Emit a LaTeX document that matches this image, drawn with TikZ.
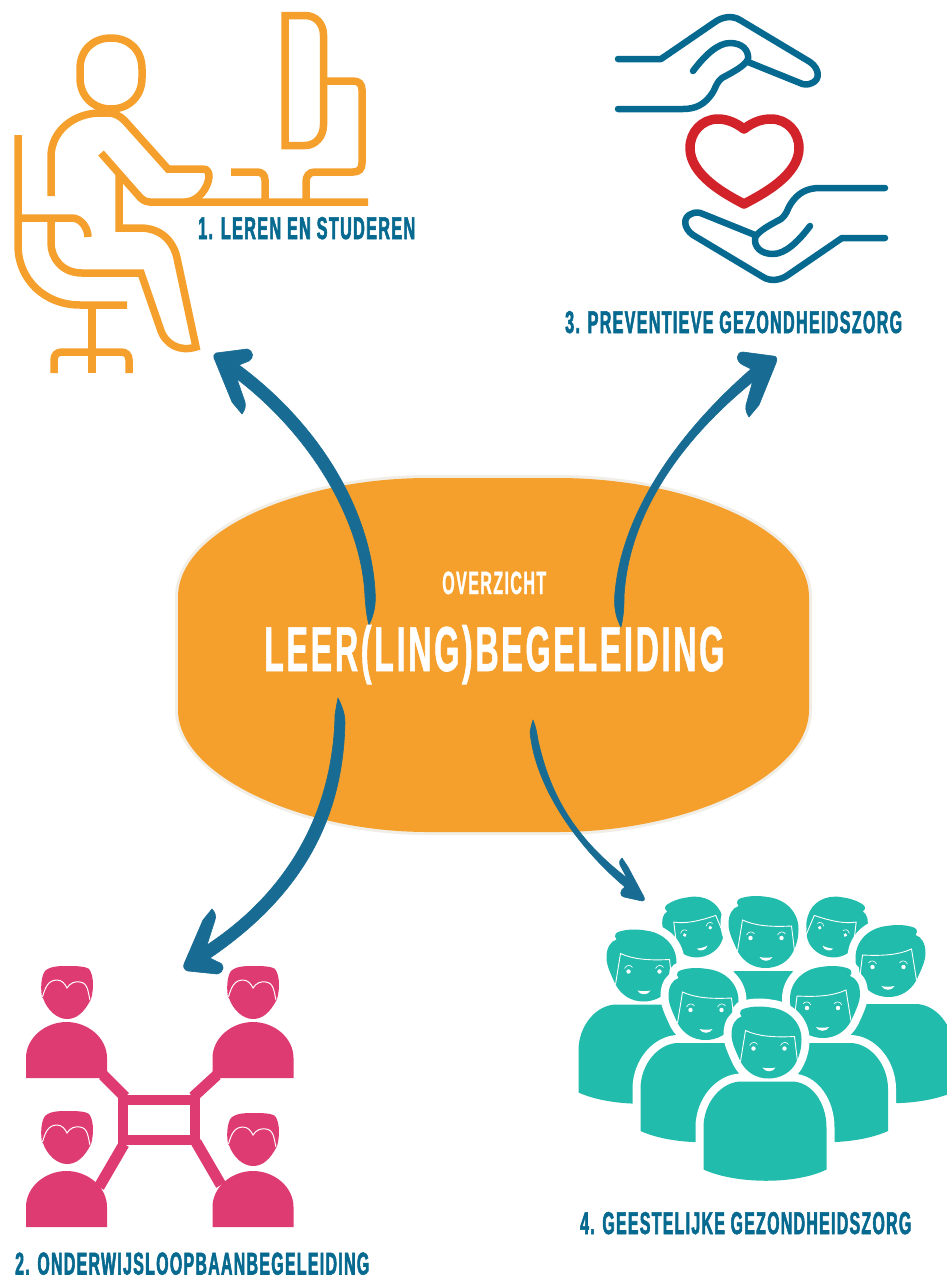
\documentclass[tikz,border=0pt]{standalone}
\usepackage{graphicx}
\usepackage{fontspec}
\newfontfamily\lab{Liberation Sans Bold}[FakeStretch=0.6,FakeBold=2,LetterSpace=5]
\newfontfamily\labthin{Liberation Sans Bold}[FakeStretch=0.6,FakeBold=1,LetterSpace=5]
\definecolor{deskor}{HTML}{F5A02C}
\definecolor{arrowblue}{HTML}{186C94}
\definecolor{textblue}{HTML}{06698F}
\definecolor{heartred}{HTML}{D2232A}
\definecolor{pinkp}{HTML}{DE3B73}
\definecolor{tealp}{HTML}{22BCAD}
\definecolor{rimc}{HTML}{F1EEE7}
\newcommand{\fit}[3]{\resizebox{#1pt}{#2pt}{#3}}
\newcommand{\hubshape}{(178,597) .. controls (178,530) and (300,478) .. (428,478) -- (557,478) .. controls (690,478) and (809,530) .. (809,597) -- (809,710) .. controls (809,775) and (690,832) .. (557,832) -- (428,832) .. controls (300,832) and (178,775) .. (178,710) -- cycle}
\newcommand{\handshape}{(618,59) -- (661,59) -- (715,22) .. controls (722,17) and (732,15) .. (740,20) -- (810,62) .. controls (820,69) and (820,80) .. (812,83) .. controls (808,85) and (804,85) .. (800,83) -- (748,62)
 (693,71) .. controls (705,55) and (718,43) .. (730,43) .. controls (742,43) and (749,50) .. (748,59) .. controls (745,66) and (733,72) .. (722,78) .. controls (716,83) and (716,87) .. (713,92) .. controls (705,105) and (695,109) .. (683,109) -- (618,109)}
\newcommand{\pinkhead}[2]{\begin{scope}[shift={(#1,#2)}]
 \fill[pinkp] (42,997) .. controls (40,985) and (42,975) .. (45,971) .. controls (50,966) and (60,966) .. (67,966) .. controls (75,966) and (85,966) .. (89,969) .. controls (93,974) and (94,985) .. (92,995) .. controls (91,1000) and (90,1001) .. (90,1001) .. controls (84,1012) and (77,1019) .. (67,1019) .. controls (57,1019) and (47,1010) .. (43,998) -- cycle;
 \draw[white,line width=1] (42.5,997) .. controls (45,988) and (48,980) .. (57,980) .. controls (62,980) and (65,984) .. (67,988) .. controls (70,983) and (75,981) .. (80,982) .. controls (88,983) and (88,992) .. (90,1000);
\end{scope}}
\newcommand{\pinkbody}[2]{\fill[pinkp,shift={(#1,#2)}] (26,1078) -- (26,1058) .. controls (26,1038) and (45,1022) .. (66.5,1022) .. controls (88,1022) and (107,1038) .. (107,1058) -- (107,1078) -- cycle;}
\newcommand{\headpath}{(-26,19) .. controls (-31,8) and (-35,0) .. (-35,-8) .. controls (-35,-18) and (-31,-24) .. (-25,-26) .. controls (-28,-30) and (-26,-33) .. (-22,-34) .. controls (-12,-37) and (-2,-36) .. (4,-35) .. controls (22,-33) and (35,-20) .. (35,-3) .. controls (35,6) and (33,13) .. (30,19) .. controls (25,30) and (14,36) .. (2,36) .. controls (-10,36) and (-20,30) .. (-26,19) -- cycle}
\newcommand{\bodypath}[1]{(-63,127+#1) -- (-63,85+#1) .. controls (-63,60+#1) and (-45,39+#1) .. (-25,39+#1) -- (25,39+#1) .. controls (45,39+#1) and (60,60+#1) .. (60,85+#1) -- (60,127+#1) .. controls (30,142+#1) and (-30,142+#1) .. (-63,127+#1) -- cycle}
\newcommand{\facebits}{%
 \draw[white,line width=.9] (-26,19) -- (-21,-12) .. controls (-8,-6) and (8,-5) .. (28,-6) -- (31,19);
 \fill[white] (-13,6) circle (2.2) (18,6) circle (2.2);
 \draw[white,line width=.6] (-17,3) .. controls (-15,-1) and (-11,-1) .. (-9,2) (14,3) .. controls (16,-1) and (20,-1) .. (22,2);
 \fill[white] (-4,25) .. controls (0,26) and (6,26) .. (9,25) .. controls (7,30) and (-2,30) .. (-4,25) -- cycle;}
\newcommand{\tealhead}[4]{\begin{scope}[shift={(#1,#2)},rotate=#4,xscale=#3,yscale=.86]
 \path[fill=white,draw=white,line width=14] \headpath;
 \fill[tealp] \headpath; \facebits
\end{scope}}
\newcommand{\tealperson}[4]{\begin{scope}[shift={(#1,#2)},xscale=#3]
 \path[fill=white,draw=white,line width=16] \bodypath{#4} \headpath;
 \fill[tealp] \bodypath{#4}; \fill[tealp] \headpath; \facebits
\end{scope}}
\begin{document}
\begin{tikzpicture}[x=1pt,y=-1pt,
 deskline/.style={draw=deskor,line width=7.5,line join=miter,line cap=butt},
 handline/.style={draw=textblue,line width=6.5,line cap=round,line join=round},
 tapered/.style={fill=arrowblue,draw=arrowblue,line width=.6,line join=round},
 labelnode/.style={anchor=base west,inner sep=0,text=textblue},
 titlenode/.style={anchor=base west,inner sep=0,text=white}]
\useasboundingbox (0,0) rectangle (946,1278);
\fill[white] (0,0) rectangle (946,1278);
% central shape
\coordinate (hub) at (493,655);
\path[draw=rimc,line width=6] \hubshape;
\fill[deskor] \hubshape;
% arrows
\coordinate (t1) at (369,625); \coordinate (t2) at (338,698); \coordinate (t3) at (621,627); \coordinate (t4) at (533,720);
\path[tapered] (t1) .. controls (375,612) and (376,603) .. (375,590) .. controls (370,510) and (320,425) .. (239,365) -- (249,361) .. controls (254,358) and (254,351) .. (247,349) -- (216,353) .. controls (214,354) and (213,356) .. (214,358) -- (232,402) -- (242,414) .. controls (245,410) and (246,406) .. (245,402) -- (237,379) .. controls (310,435) and (362,520) .. (365,597) .. controls (366,610) and (367,618) .. (t1) -- cycle;
\path[tapered] (t3) .. controls (624,614) and (624,605) .. (624,597) .. controls (628,520) and (675,445) .. (752.5,382) -- (746,405) .. controls (745,410) and (747,414) .. (749,417) -- (759,405) -- (776,363) .. controls (778,358) and (776,356) .. (773,356) -- (743,352) .. controls (736,352) and (735,361) .. (743,365) -- (751,369) .. controls (670,440) and (620,520) .. (614.6,597) .. controls (614,610) and (617,620) .. (t3) -- cycle;
\path[tapered] (t2) .. controls (343,708) and (345,715) .. (345,723) .. controls (343,810) and (310,890) .. (210,958) -- (218,962) .. controls (225,964) and (225,972) .. (217,974) -- (188,971) .. controls (184,970) and (183,967) .. (184,964) -- (203,920) -- (212,909) .. controls (216,913) and (216,917) .. (215,920) -- (207,945) .. controls (290,890) and (333,810) .. (335,715) .. controls (336,708) and (337,703) .. (t2) -- cycle;
\path[tapered] (t4) .. controls (536,727) and (537,734) .. (538,740) .. controls (550,795) and (575,838) .. (627,878) -- (620,865) .. controls (619,861) and (620,860) .. (622,858) -- (628,867) -- (644,897) .. controls (645,900) and (644,901) .. (642,901) -- (624,897) .. controls (620,896) and (619,891) .. (625,887) .. controls (575,845) and (535,785) .. (530,732) .. controls (531,727) and (532,723) .. (t4) -- cycle;
% text in hub
\node[titlenode] (ov) at (442,594) {\labthin\fit{104}{22.5}{OVERZICHT}};
\node[titlenode] (ti) at (264,671) {\labthin\fit{460}{46}{LEER(LING)BEGELEIDING}};
% labels
\node[labelnode] (l1) at (198,239) {\lab\fit{217}{22}{1. LEREN EN STUDEREN}};
\node[labelnode] (l3) at (565,333) {\lab\fit{337}{22}{3. PREVENTIEVE GEZONDHEIDSZORG}};
\node[labelnode] (l2) at (15,1274.5) {\lab\fit{354}{22}{2. ONDERWIJSLOOPBAANBEGELEIDING}};
\node[labelnode] (l4) at (580,1234) {\lab\fit{331}{22}{4. GEESTELIJKE GEZONDHEIDSZORG}};
% desk figure
\draw[deskline] (111,38) .. controls (93,38) and (80,50) .. (80,69) -- (80,78) .. controls (80,96) and (93,109) .. (111,109) .. controls (129,109) and (142,96) .. (142,78) -- (142,69) .. controls (142,50) and (129,38) .. (111,38) -- cycle;
\draw[deskline] (51,196) -- (51,157) .. controls (51,130) and (75,113) .. (100,113) -- (108,113) .. controls (115,113) and (120,116) .. (125,121) -- (168,169) -- (203,169) .. controls (208,169) and (209,173) .. (209,177) .. controls (208,188) and (198,202) .. (185,202);
\draw[deskline] (101,153) -- (138,195) .. controls (141,199) and (145,202) .. (150,202) -- (368,202);
\draw[deskline] (119,175) -- (119,228) -- (140,228) .. controls (160,228) and (173,240) .. (177,258) -- (196,347) .. controls (180,352) and (165,345) .. (160,328) -- (141,273) -- (82,273) .. controls (62,273) and (51,258) .. (51,243) -- (51,218);
\draw[deskline] (18,135) -- (18,245) .. controls (18,280) and (45,305) .. (80,305) -- (127,305);
\draw[deskline] (18,218) -- (72,218) .. controls (81,218) and (88,228) .. (88,237);
\draw[deskline] (92,305) -- (92,373);
\draw[deskline] (54,373) -- (54,360) .. controls (54,355) and (57,352) .. (62,352) -- (121,352) .. controls (126,352) and (129,355) .. (129,360) -- (129,373);
\draw[deskline] (285,15.5) -- (305,15.5) .. controls (316,15.5) and (323.5,24) .. (323.5,35) -- (323.5,125) .. controls (323.5,136) and (316,145.5) .. (305,145.5) -- (285,145.5) -- cycle;
\draw[deskline] (327,81) -- (353,81) .. controls (359,81) and (362,84) .. (362,90) -- (362,163) .. controls (362,169) and (359,172) .. (353,172) -- (315,172) .. controls (309,172) and (306,176) .. (306,182) -- (306,202);
\draw[deskline] (231,172) -- (257,172) .. controls (262,172) and (265,175) .. (265,180) -- (265,202);
% hands and heart
\path[handline] \handshape;
\begin{scope}[shift={(1503,297)},xscale=-1,yscale=-1]
\path[handline] \handshape;
\end{scope}
\draw[heartred,line width=9.5,line join=round] (744,129) .. controls (735,122) and (726,119) .. (718,119) .. controls (702,119) and (690,132) .. (690,148) .. controls (690,175) and (725,194) .. (744,204) .. controls (763,194) and (799,175) .. (799,148) .. controls (799,132) and (787,119) .. (771,119) .. controls (762,119) and (753,122) .. (744,129) -- cycle;
% pink network
\draw[pinkp,line width=10,line join=miter] (123,1100) rectangle (195,1140);
\draw[pinkp,line width=11] (125,1097) -- (103,1075) (193,1097) -- (217,1075) (124,1144) -- (99,1187) (196,1142) -- (221,1185);
\pinkhead{0}{0}\pinkbody{0}{0}
\pinkhead{186}{0}\pinkbody{186.5}{0}
\pinkhead{0}{145}\pinkbody{0}{149}
\pinkhead{186}{147}\pinkbody{186.5}{149}
% teal group
\tealhead{694}{927}{.86}{16}
\tealhead{836}{927}{-.86}{-16}
\tealperson{763.5}{932}{1}{0}
\tealperson{641.5}{965.5}{1}{0}
\tealperson{890.5}{961}{-1}{4}
\tealperson{703.5}{1004}{1}{0}
\tealperson{825}{1002}{-1}{2}
\tealperson{766.5}{1042.5}{1}{0}
\end{tikzpicture}
\end{document}
